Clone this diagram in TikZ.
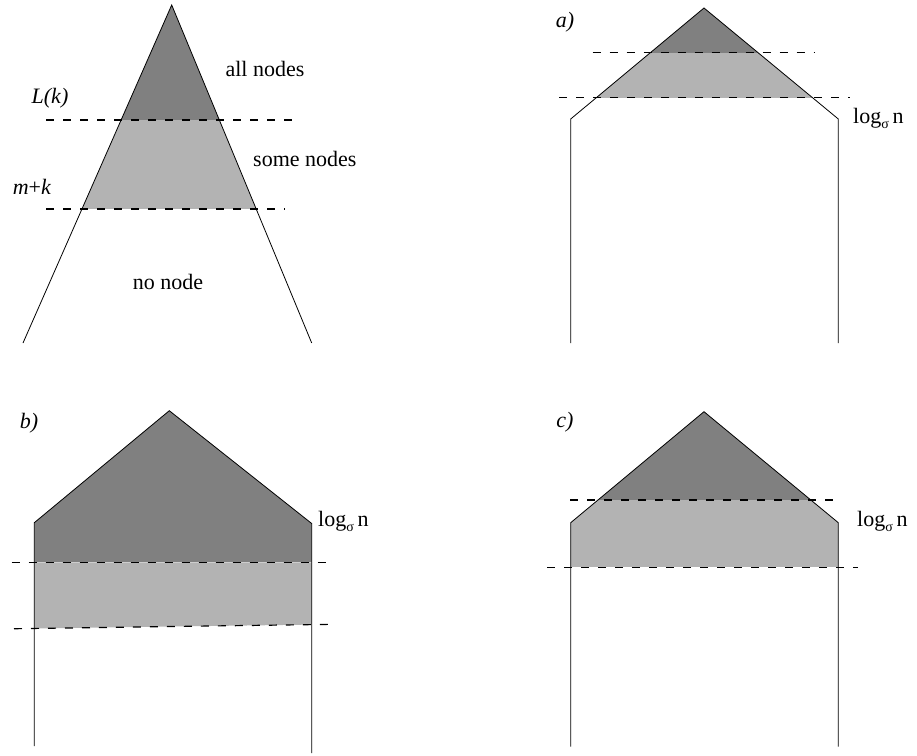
\documentclass[tikz,border=0pt]{standalone}
\usepackage{fontspec}
\setmainfont{Liberation Serif}
\definecolor{darkf}{HTML}{808080}
\definecolor{lightf}{HTML}{B3B3B3}
\newcommand{\logsig}{log{\fontsize{14}{14}\selectfont\raisebox{-5pt}{σ}}\,n}
\tikzset{
  outline/.style={draw=black, line width=0.8pt, line join=miter},
  cutline/.style={draw=black, line width=1.2pt, dash pattern=on 8pt off 9pt},
  lbl/.style={font=\fontsize{22}{26}\selectfont, inner sep=0pt},
}
\begin{document}
\begin{tikzpicture}[x=1pt, y=-1pt]
\useasboundingbox (0,0) rectangle (917,755);

% ---- top-left: triangle
\begin{scope}
  \clip (171.7,5) -- (23,343) -- (311.7,343) -- cycle;
  \fill[darkf] (0,0) rectangle (400,120);
  \fill[lightf] (0,120) rectangle (400,209);
\end{scope}
\draw[outline] (23,343) -- (171.7,5) -- (311.7,343);
\draw[cutline] (46,120) -- (298,120);
\draw[cutline] (46,209) -- (285,209);
\node[lbl] (allnodes) at (265,69) {all nodes};
\node[lbl] (lk) at (50,98) {\textit{L(k)}};
\node[lbl, anchor=west] (somenodes) at (253,159) {some nodes};
\node[lbl] (mk) at (32,187) {\textit{m}+\textit{k}};
\node[lbl] (nonode) at (168,282) {no node};

% ---- a)
\begin{scope}
  \clip (570.7,343) -- (570.7,119) -- (704,8) -- (838.3,119) -- (838.3,343) -- cycle;
  \fill[darkf] (500,0) rectangle (900,52.7);
  \fill[lightf] (500,52.7) rectangle (900,97.7);
\end{scope}
\draw[outline] (570.7,343) -- (570.7,119) -- (704,8) -- (838.3,119) -- (838.3,343);
\draw[cutline] (592.7,52.7) -- (814,52.7);
\draw[cutline] (559,97.7) -- (850,97.7);
\node[lbl] (la) at (565,22) {\textit{a)}};
\node[lbl, anchor=west] (loga) at (853,118) {\logsig};

% ---- b)
\begin{scope}
  \clip (34.3,746) -- (34.3,522.7) -- (169.3,410.7) -- (311.7,523.5) -- (311.7,753) -- cycle;
  \fill[darkf] (0,400) rectangle (340,562.3);
  \fill[lightf] (0,562.3) -- (340,562.3) -- (340,624.2) -- (0,628.9) -- cycle;
\end{scope}
\draw[outline] (34.3,746) -- (34.3,522.7) -- (169.3,410.7) -- (311.7,523.5) -- (311.7,753);
\draw[cutline] (11.7,562.3) -- (331.7,562.3);
\draw[cutline] (14,628.7) -- (333,624.3);
\node[lbl] (lb) at (29,423) {\textit{b)}};
\node[lbl, anchor=west] (logb) at (318,521) {\logsig};

% ---- c)
\begin{scope}
  \clip (570.7,746.7) -- (570.7,522.7) -- (704,411.7) -- (838.3,522.7) -- (838.3,746.7) -- cycle;
  \fill[darkf] (500,400) rectangle (900,500);
  \fill[lightf] (500,500) rectangle (900,567.3);
\end{scope}
\draw[outline] (570.7,746.7) -- (570.7,522.7) -- (704,411.7) -- (838.3,522.7) -- (838.3,746.7);
\draw[cutline] (570,500) -- (840,500);
\draw[cutline] (547.3,567.3) -- (858.3,567.3);
\node[lbl] (lc) at (565,422) {\textit{c)}};
\node[lbl, anchor=west] (logc) at (857,521) {\logsig};
\end{tikzpicture}
\end{document}
